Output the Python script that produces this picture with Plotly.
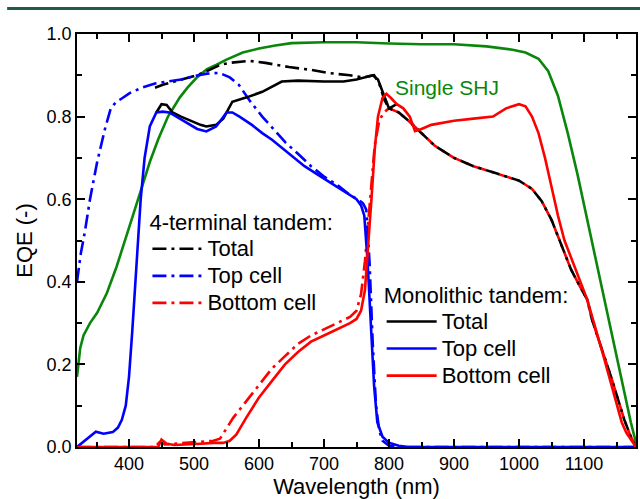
import plotly.graph_objects as go

# ---------------- data ----------------
shj_wl = [320, 325, 330, 340, 351, 366, 381, 390, 400, 410, 420, 432, 445, 460, 478, 490, 504,
          520, 534, 550, 575, 600, 625, 650, 700, 750, 800, 850, 900, 950, 990, 1010, 1030,
          1045, 1060, 1075, 1090, 1105, 1120, 1131, 1147, 1162, 1172, 1180]
shj_eqe = [0.17, 0.24, 0.27, 0.30, 0.325, 0.373, 0.437, 0.48, 0.53, 0.58, 0.63, 0.69, 0.745,
           0.80, 0.846, 0.87, 0.894, 0.915, 0.925, 0.938, 0.955, 0.965, 0.972, 0.978, 0.98,
           0.98, 0.977, 0.975, 0.975, 0.97, 0.962, 0.955, 0.94, 0.91, 0.85, 0.76, 0.66, 0.55,
           0.44, 0.357, 0.24, 0.13, 0.06, 0.01]

t4_top_wl = [320, 326, 332, 340, 351, 363, 372, 380, 390, 401, 420, 440, 460, 480, 500, 520,
             539, 555, 569, 585, 605, 625, 641, 660, 680, 700, 720, 740, 752, 760, 765, 770,
             775, 780, 785, 790, 800, 820, 1180]
t4_top_eqe = [0.40, 0.47, 0.52, 0.60, 0.69, 0.77, 0.82, 0.835, 0.845, 0.857, 0.87, 0.88, 0.885,
              0.89, 0.898, 0.904, 0.906, 0.895, 0.877, 0.84, 0.80, 0.765, 0.737, 0.71, 0.68,
              0.655, 0.635, 0.61, 0.60, 0.59, 0.575, 0.45, 0.25, 0.1, 0.04, 0.015, 0.003, 0.0, 0.0]

tail_wl = [815, 830, 850, 870, 900, 930, 960, 1000, 1020, 1035, 1050, 1065, 1080, 1095, 1105,
           1112, 1128, 1143, 1162, 1172, 1180]
tail_eqe = [0.81, 0.79, 0.76, 0.73, 0.70, 0.68, 0.665, 0.645, 0.625, 0.595, 0.55, 0.49, 0.43,
            0.385, 0.357, 0.31, 0.236, 0.163, 0.066, 0.025, 0.0]

t4_tot_wl = [440, 452, 470, 485, 504, 520, 540, 554, 569, 585, 610, 646, 680, 710, 740, 760,
             770, 777, 785, 793, 800] + tail_wl
t4_tot_eqe = [0.87, 0.877, 0.885, 0.892, 0.90, 0.91, 0.925, 0.93, 0.933, 0.935, 0.93, 0.92,
              0.913, 0.905, 0.90, 0.895, 0.898, 0.90, 0.88, 0.84, 0.82] + tail_eqe

t4_bot_wl = [320, 440, 447, 455, 470, 490, 510, 530, 540, 548, 560, 575, 590, 605, 620, 640,
             660, 680, 700, 720, 740, 750, 757, 763, 768, 773, 778, 785, 792, 800] + tail_wl
t4_bot_eqe = [0.0, 0.0, 0.012, 0.006, 0.008, 0.01, 0.012, 0.015, 0.02, 0.04, 0.07, 0.1, 0.13,
              0.16, 0.19, 0.22, 0.25, 0.27, 0.285, 0.3, 0.315, 0.33, 0.37, 0.45, 0.55, 0.65,
              0.73, 0.79, 0.81, 0.82] + tail_eqe

mono_top_wl = [320, 335, 349, 361, 375, 383, 389, 395, 400, 405, 412, 418, 424, 432, 442, 452,
               462, 478, 493, 505, 519, 534, 543, 550, 559, 570, 589, 605, 620, 646, 670, 700,
               720, 740, 750, 757, 762, 767, 772, 777, 782, 790, 800, 815, 830, 1180]
mono_top_eqe = [0.0, 0.02, 0.037, 0.032, 0.036, 0.047, 0.066, 0.1, 0.17, 0.28, 0.45, 0.6, 0.70,
                0.776, 0.81, 0.812, 0.81, 0.795, 0.78, 0.77, 0.764, 0.776, 0.795, 0.81, 0.81,
                0.80, 0.78, 0.76, 0.744, 0.71, 0.68, 0.65, 0.63, 0.61, 0.60, 0.585, 0.56, 0.45,
                0.30, 0.15, 0.06, 0.025, 0.01, 0.003, 0.0, 0.0]

mono_tot_wl = [442, 450, 458, 467, 480, 495, 510, 519, 534, 545, 550, 559, 580, 605, 635, 660,
               700, 730, 750, 765, 775, 783, 790, 800, 812]
mono_tot_eqe = [0.81, 0.83, 0.828, 0.81, 0.80, 0.79, 0.78, 0.776, 0.78, 0.795, 0.81, 0.836,
                0.846, 0.86, 0.885, 0.887, 0.885, 0.885, 0.89, 0.895, 0.90, 0.89, 0.86, 0.82,
                0.83]

mono_bot_wl = [320, 445, 450, 458, 470, 490, 510, 530, 545, 555, 565, 580, 600, 620, 640, 660,
               680, 700, 720, 740, 750, 757, 763, 768, 773, 778, 783, 790, 796, 803, 812, 822,
               832, 840, 850, 865, 880, 900, 930, 960, 980, 1000, 1010, 1020, 1030, 1040, 1050,
               1060, 1070, 1085, 1095, 1105, 1130, 1150, 1158, 1165, 1180]
mono_bot_eqe = [0.0, 0.0, 0.018, 0.008, 0.005, 0.006, 0.008, 0.01, 0.01, 0.015, 0.03, 0.07,
                0.12, 0.16, 0.20, 0.23, 0.255, 0.27, 0.285, 0.30, 0.31, 0.33, 0.38, 0.48, 0.60,
                0.72, 0.80, 0.845, 0.855, 0.845, 0.83, 0.82, 0.80, 0.765, 0.77, 0.78, 0.785,
                0.79, 0.795, 0.80, 0.82, 0.83, 0.825, 0.80, 0.76, 0.70, 0.63, 0.56, 0.50, 0.44,
                0.40, 0.357, 0.22, 0.11, 0.06, 0.035, 0.0]

legend_names = ["Total", "Top cell", "Bottom cell"]

# ---------------- styling ----------------
FONT = "Arial, 'Liberation Sans', sans-serif"
GREEN = "#0a870a"
DASHDOT = "14px,5px,3px,5px"
LW = 2.6


def lg(name):
    return "<span style='font-size:22px'>" + name + "</span>"


fig = go.Figure()

fig.add_trace(go.Scatter(x=shj_wl, y=shj_eqe, mode="lines", showlegend=False,
                         line=dict(color=GREEN, width=LW), name="Single SHJ"))

# 4-terminal tandem (dash-dot)
fig.add_trace(go.Scatter(x=t4_bot_wl, y=t4_bot_eqe, mode="lines", name=lg(legend_names[2]),
                         legend="legend", legendrank=3,
                         line=dict(color="red", width=LW, dash=DASHDOT)))
fig.add_trace(go.Scatter(x=t4_tot_wl, y=t4_tot_eqe, mode="lines", name=lg(legend_names[0]),
                         legend="legend", legendrank=1,
                         line=dict(color="black", width=LW, dash=DASHDOT)))
fig.add_trace(go.Scatter(x=t4_top_wl, y=t4_top_eqe, mode="lines", name=lg(legend_names[1]),
                         legend="legend", legendrank=2,
                         line=dict(color="blue", width=LW, dash=DASHDOT)))

# Monolithic tandem (solid)
fig.add_trace(go.Scatter(x=mono_tot_wl, y=mono_tot_eqe, mode="lines", name=lg(legend_names[0]),
                         legend="legend2", legendrank=1,
                         line=dict(color="black", width=LW)))
fig.add_trace(go.Scatter(x=mono_top_wl, y=mono_top_eqe, mode="lines", name=lg(legend_names[1]),
                         legend="legend2", legendrank=2,
                         line=dict(color="blue", width=LW)))
fig.add_trace(go.Scatter(x=mono_bot_wl, y=mono_bot_eqe, mode="lines", name=lg(legend_names[2]),
                         legend="legend2", legendrank=3,
                         line=dict(color="red", width=LW)))

axis_common = dict(
    showline=True, linecolor="black", linewidth=1.6, mirror="allticks",
    ticks="inside", ticklen=8, tickwidth=1.6, tickcolor="black",
    showgrid=False, zeroline=False,
    tickfont=dict(family=FONT, size=18, color="black"),
)

fig.update_xaxes(range=[320, 1180], tick0=0, dtick=100,
                 minor=dict(dtick=50, ticks="inside", ticklen=5, tickwidth=1.6, tickcolor="black"),
                 title=dict(text="Wavelength (nm)", font=dict(family=FONT, size=22, color="black"),
                            standoff=6),
                 **axis_common)
fig.update_yaxes(range=[0, 1.0], tick0=0, dtick=0.2, tickformat=".1f",
                 minor=dict(dtick=0.1, ticks="inside", ticklen=5, tickwidth=1.6, tickcolor="black"),
                 title=dict(text="EQE (-)", font=dict(family=FONT, size=22, color="black"),
                            standoff=8),
                 **axis_common)

legend_common = dict(
    bgcolor="rgba(0,0,0,0)", borderwidth=0, itemwidth=50,
    font=dict(family=FONT, size=18.5, color="black"),
    xanchor="left", yanchor="top", tracegroupgap=0, itemclick=False,
)

fig.update_layout(
    width=640, height=499,
    margin=dict(l=77, r=2, t=34, b=52),
    paper_bgcolor="white", plot_bgcolor="white",
    font=dict(family=FONT, color="black"),
    legend=dict(x=0.126, y=0.594,
                title=dict(text="4-terminal tandem:", font=dict(family=FONT, size=22)),
                **legend_common),
    legend2=dict(x=0.545, y=0.418,
                 title=dict(text="Monolithic tandem:", font=dict(family=FONT, size=22)),
                 **legend_common),
    annotations=[dict(text="Single SHJ", x=806, y=0.87, xref="x", yref="y",
                      xanchor="left", yanchor="middle", showarrow=False,
                      font=dict(family=FONT, size=21, color=GREEN))],
    shapes=[dict(type="line", xref="paper", yref="paper", x0=-0.125, x1=1.01,
                 y0=1.062, y1=1.062, line=dict(color="#1d5c47", width=3))],
)

fig.write_html("out.html")
